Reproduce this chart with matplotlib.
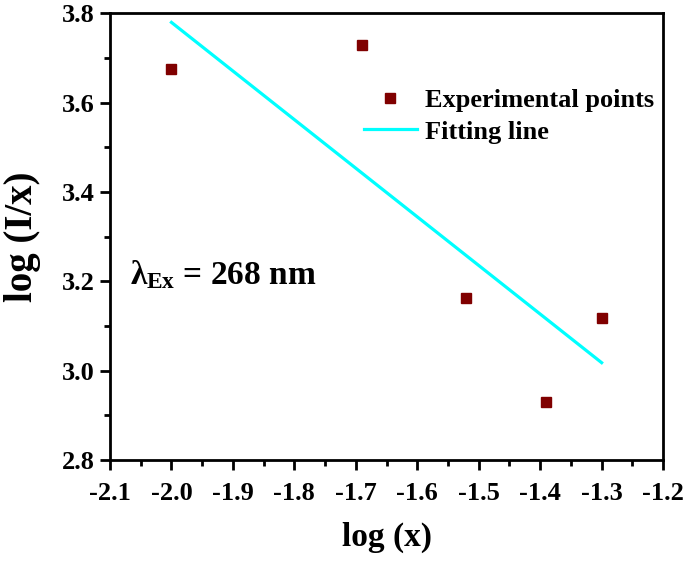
import numpy as np
import matplotlib
matplotlib.use("Agg")
import matplotlib.pyplot as plt
from matplotlib.ticker import MultipleLocator, FormatStrFormatter

#
# Data.
#
log_x = [-2.00, -1.69, -1.52, -1.39, -1.30]
log_ix = [3.675, 3.730, 3.162, 2.929, 3.119]
fit_x = [-2.00, -1.30]
fit_y = [3.780, 3.018]

plt.rcParams['font.family'] = 'Liberation Serif'
plt.rcParams['font.weight'] = 'bold'
plt.rcParams['mathtext.fontset'] = 'custom'
plt.rcParams['mathtext.rm'] = 'Liberation Serif:bold'
plt.rcParams['mathtext.it'] = 'Liberation Serif:bold'
plt.rcParams['mathtext.bf'] = 'Liberation Serif:bold'

fig = plt.figure(figsize=(6.85, 5.61), dpi=100)
ax = fig.add_axes([0.1606, 0.18, 0.8074, 0.796])

ax.plot(log_x, log_ix, 's', color='#800000', markersize=6.5, label='Experimental points')
ax.plot(fit_x, fit_y, '-', color='#00FFFF', lw=2.3, label='Fitting line')

ax.set_xlim(-2.1, -1.2)
ax.set_ylim(2.8, 3.8)
ax.xaxis.set_major_locator(MultipleLocator(0.1))
ax.xaxis.set_minor_locator(MultipleLocator(0.05))
ax.yaxis.set_major_locator(MultipleLocator(0.2))
ax.yaxis.set_minor_locator(MultipleLocator(0.1))
ax.xaxis.set_major_formatter(FormatStrFormatter('%.1f'))
ax.yaxis.set_major_formatter(FormatStrFormatter('%.1f'))

for s in ax.spines.values():
    s.set_linewidth(2)
ax.tick_params(which='major', direction='out', length=7, width=2, labelsize=19)
ax.tick_params(axis='x', which='major', pad=9)
ax.tick_params(axis='y', which='major', pad=4)
ax.tick_params(which='minor', direction='out', length=4, width=2)

ax.set_xlabel('log (x)', fontsize=24, fontweight='bold', labelpad=12)
ax.set_ylabel('log (I/x)', fontsize=28, fontweight='bold')
ax.yaxis.set_label_coords(-0.125, 0.5)

ax.text(-2.068, 3.215, r'$\lambda_{\mathrm{Ex}}$ = 268 nm', fontsize=24,
        fontweight='bold', va='center', ha='left')

ax.legend(loc='upper right', bbox_to_anchor=(1.012, 0.867), frameon=False,
          fontsize=19, handlelength=2.0, handletextpad=0.3, labelspacing=0.3,
          borderaxespad=0.2)

fig.savefig('out.png', dpi=100)
